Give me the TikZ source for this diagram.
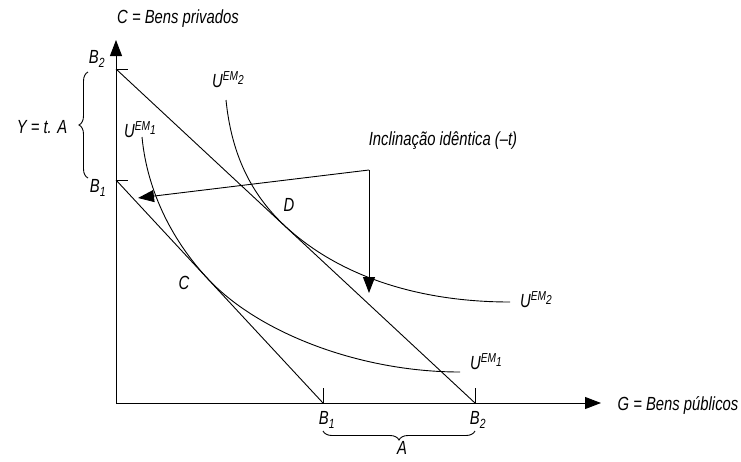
\documentclass[tikz,border=0pt]{standalone}
\usepackage{fontspec}
\setmainfont{Liberation Sans}[FakeStretch=0.78]
\usetikzlibrary{arrows.meta,decorations.pathreplacing}

\newcommand{\uem}[1]{U\raisebox{0.7ex}{\fontsize{13}{13}\selectfont EM\raisebox{-0.6ex}{#1}}}

\begin{document}
\begin{tikzpicture}[x=1pt,y=-1pt,line width=0.9pt,
  lbl/.style={font=\itshape\fontsize{19}{21}\selectfont,inner sep=0pt},
  axis/.style={-{Triangle[length=16pt,width=12pt]}},
  curve/.style={line width=0.9pt},
  brace/.style={decorate,decoration={brace,amplitude=9pt}}]
\useasboundingbox (0,0) rectangle (741,461);
% axes
\coordinate (O) at (116,403);
\coordinate (ytip) at (116,40);
\coordinate (xtip) at (601,403);
\draw[axis] (O) -- (ytip);
\draw[axis] (O) -- (xtip);
% budget points
\coordinate (b2y) at (116,69);
\coordinate (b1y) at (116,180);
\coordinate (b1x) at (323,403);
\coordinate (b2x) at (475,403);
\draw (b2y) -- ++(12,0);
\draw (b1y) -- ++(12,0);
\draw (b1x) -- ++(0,-15);
\draw (b2x) -- ++(0,-15);
\draw (b2y) -- (b2x);
\draw (b1y) -- (b1x);
% indifference curves
\coordinate (C) at (210,281);
\coordinate (D) at (285,226);
\draw[curve] (142,137) .. controls (148,200) and (180,250) .. (C)
  .. controls (260,333) and (360,372) .. (460,372);
\draw[curve] (226,100) .. controls (232,160) and (255,198) .. (D)
  .. controls (340,277) and (420,302) .. (510,302);
% slope arrows
\coordinate (corner) at (369,170);
\coordinate (lefttip) at (138,198);
\coordinate (downtip) at (369,293);
\draw[axis] (corner) -- (lefttip);
\draw[axis] (corner) -- (downtip);
% braces
\draw[brace] (88,178) -- (88,72);
\draw[brace] (475,431) -- (323,431);
% labels
\node[lbl] (lc) at (178,19) {C = Bens privados};
\node[lbl] (lg) at (678,405) {G = Bens públicos};
\node[lbl] (lb2y) at (97,59) {B\textsubscript{2}};
\node[lbl] (lb1y) at (98,188) {B\textsubscript{1}};
\node[lbl] (lb1x) at (327,420) {B\textsubscript{1}};
\node[lbl] (lb2x) at (478,420) {B\textsubscript{2}};
\node[lbl] (ly) at (42,127) {Y = t. A};
\node[lbl] (la) at (402,448) {A};
\node[lbl] (lu2a) at (228,80) {\uem{2}};
\node[lbl] (lu1a) at (140,130) {\uem{1}};
\node[lbl] (lu2b) at (536,300) {\uem{2}};
\node[lbl] (lu1b) at (486,362) {\uem{1}};
\node[lbl] (ld) at (289,205) {D};
\node[lbl] (lcc) at (184,283) {C};
\node[lbl] (lincl) at (443,141) {Inclinação idêntica (–t)};
\end{tikzpicture}
\end{document}
